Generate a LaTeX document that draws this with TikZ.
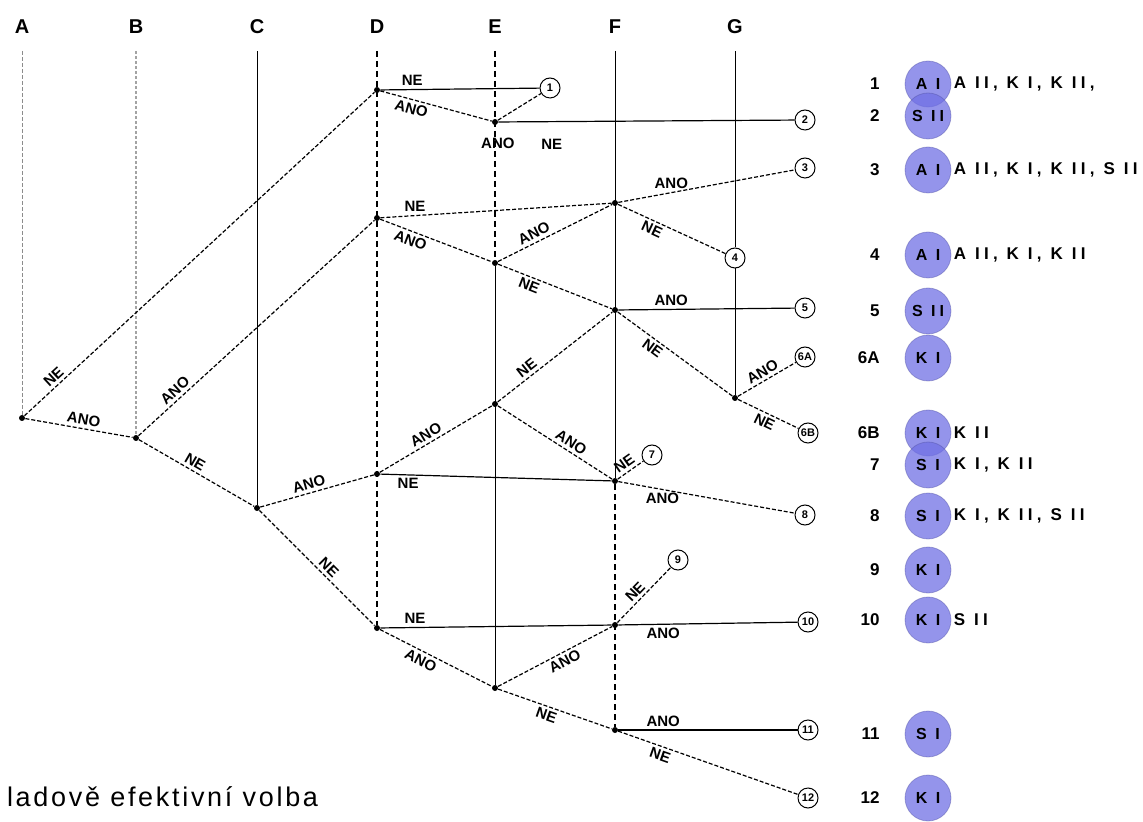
\documentclass[tikz,border=0pt]{standalone}
\usepackage{fontspec}
\setmainfont{Liberation Sans}
\newfontfamily\espaciada[LetterSpace=25]{Liberation Sans}
\newfontfamily\pie[LetterSpace=10]{Liberation Sans}
\usetikzlibrary{positioning}
\definecolor{azul}{RGB}{112,112,228}
\definecolor{gris}{RGB}{140,140,140}

\begin{document}
\begin{tikzpicture}[x=0.5pt, y=-0.5pt,
    nudo/.style={circle, fill, inner sep=0pt, minimum size=3pt},
    fin/.style={circle, draw, fill=white, line width=0.5pt, inner sep=0pt, minimum size=10pt, font=\fontsize{5.5}{6}\selectfont\bfseries},
    etiq/.style={font=\fontsize{7.5}{8}\selectfont\bfseries, inner sep=1.5pt},
    rama/.style={line width=0.6pt, dash pattern=on 2pt off 1pt},
    recta/.style={line width=0.6pt},
    titulo/.style={font=\fontsize{10}{12}\selectfont\bfseries},
    numero/.style={font=\bfseries\fontsize{8.5}{10}\selectfont, inner sep=1pt},
    circulo/.style={circle, fill=azul, fill opacity=0.75, text opacity=1, draw=azul!70!black, draw opacity=0.4, minimum size=23pt, inner sep=0pt, font=\espaciada\bfseries\fontsize{8}{9}\selectfont},
    lista/.style={font=\espaciada\bfseries\fontsize{8.5}{10}\selectfont, inner sep=1pt}]

    \useasboundingbox (0,0) rectangle (1143,822);

    \def\xA{22} % posiciones de las columnas
    \def\xB{136}
    \def\xC{257}
    \def\xD{377}
    \def\xE{495}
    \def\xF{615}
    \def\xG{735}

    % Titulos de las columnas
    \foreach \col/\x in {A/\xA, B/\xB, C/\xC, D/\xD, E/\xE, F/\xF, G/\xG}
        \node[titulo] (h\col) at (\x,27) {\col};

    % Nudos de decision
    \node[nudo] (a) at (\xA,418) {};
    \node[nudo] (b) at (\xB,438) {};
    \node[nudo] (c) at (\xC,508) {};
    \node[nudo] (d1) at (\xD,90) {};
    \node[nudo] (d2) at (\xD,218) {};
    \node[nudo] (d3) at (\xD,474) {};
    \node[nudo] (d4) at (\xD,628) {};
    \node[nudo] (e1) at (\xE,122) {};
    \node[nudo] (e2) at (\xE,263) {};
    \node[nudo] (e3) at (\xE,404) {};
    \node[nudo] (e4) at (\xE,688) {};
    \node[nudo] (f1) at (\xF,203) {};
    \node[nudo] (f2) at (\xF,310) {};
    \node[nudo] (f3) at (\xF,481) {};
    \node[nudo] (f4) at (\xF,625) {};
    \node[nudo] (f5) at (\xF,730) {};
    \node[nudo] (g1) at (\xG,398) {};

    % Resultados
    \node[fin] (o1) at (550,88) {1};
    \node[fin] (o2) at (805,120) {2};
    \node[fin] (o3) at (805,168) {3};
    \node[fin] (o4) at (\xG,258) {4};
    \node[fin] (o5) at (805,308) {5};
    \node[fin] (o6a) at (805,357) {6A};
    \node[fin] (o6b) at (808,433) {6B};
    \node[fin] (o7) at (652,455) {7};
    \node[fin] (o8) at (805,515) {8};
    \node[fin] (o9) at (678,560) {9};
    \node[fin] (o10) at (808,622) {10};
    \node[fin] (o11) at (808,730) {11};
    \node[fin] (o12) at (808,798) {12};

    % Lineas de las columnas
    \draw[gris, line width=0.5pt, dash pattern=on 2pt off 1pt, shorten <=5pt] (hA.south) -- (a);
    \draw[gris!80, line width=0.9pt, dash pattern=on 1.5pt off 1pt, shorten <=5pt] (hB.south) -- (b);
    \draw[line width=0.5pt, shorten <=5pt] (hC.south) -- (c);
    \draw[line width=0.9pt, dash pattern=on 3pt off 2pt, shorten <=5pt] (hD.south) -- (d4);
    \draw[line width=0.8pt, dash pattern=on 3pt off 2pt, shorten <=5pt] (hE.south) -- (e2);
    \draw[line width=0.5pt] (e2) -- (e4);
    \draw[line width=0.5pt, shorten <=5pt] (hF.south) -- (f3);
    \draw[line width=0.9pt, dash pattern=on 3pt off 2pt] (f3) -- (f5);
    \draw[line width=0.5pt, shorten <=5pt] (hG.south) -- (o4);
    \draw[line width=0.5pt] (o4) -- (g1);

    % Ramas desde A, B y C
    \draw[rama] (a) -- node[etiq, above, sloped, pos=0.1] {NE} (d1);
    \draw[rama] (a) -- node[etiq, above, sloped, pos=0.53] {ANO} (b);
    \draw[rama] (b) -- node[etiq, above, sloped, pos=0.18] {ANO} (d2);
    \draw[rama] (b) -- node[etiq, above, sloped, pos=0.45] {NE} (c);
    \draw[rama] (c) -- node[etiq, above, sloped, pos=0.45] {ANO} (d3);
    \draw[rama] (c) -- node[etiq, above, sloped, pos=0.55] {NE} (d4);

    % Ramas desde D
    \draw[recta] (d1) -- node[etiq, above, pos=0.2] {NE} (o1);
    \draw[rama] (d1) -- node[etiq, below, sloped, pos=0.3] {ANO} (e1);
    \draw[rama] (d2) -- node[etiq, above, pos=0.15] {NE} (f1);
    \draw[rama] (d2) -- node[etiq, below, sloped, pos=0.3] {ANO} (e2);
    \draw[rama] (d3) -- node[etiq, above, sloped, pos=0.45] {ANO} (e3);
    \draw[recta] (d3) -- node[etiq, below, pos=0.12] {NE} (f3);
    \draw[recta] (d4) -- node[etiq, above, pos=0.15] {NE} (f4);
    \draw[rama] (d4) -- node[etiq, below, sloped, pos=0.4] {ANO} (e4);

    % Ramas desde E
    \draw[rama] (e1) -- node[etiq, below=7pt, pos=0] {ANO} (o1);
    \draw[recta] (e1) -- node[etiq, below=7pt, pos=0.18] {NE} (o2);
    \draw[rama] (e2) -- node[etiq, above, sloped, pos=0.35] {ANO} (f1);
    \draw[rama] (e2) -- node[etiq, below, sloped, pos=0.3] {NE} (f2);
    \draw[rama] (e3) -- node[etiq, above, sloped, pos=0.3] {NE} (f2);
    \draw[rama] (e3) -- node[etiq, above, sloped, pos=0.6] {ANO} (f3);
    \draw[rama] (e4) -- node[etiq, below, sloped, pos=0.55] {ANO} (f4);
    \draw[rama] (e4) -- node[etiq, below, sloped, pos=0.45] {NE} (f5);

    % Ramas desde F y G
    \draw[rama] (f1) -- node[etiq, above, pos=0.3] {ANO} (o3);
    \draw[rama] (f1) -- node[etiq, below, sloped, pos=0.35] {NE} (o4);
    \draw[recta] (f2) -- node[etiq, above, pos=0.3] {ANO} (o5);
    \draw[rama] (f2) -- node[etiq, below, sloped, pos=0.35] {NE} (g1);
    \draw[rama] (g1) -- node[etiq, above, sloped, pos=0.5] {ANO} (o6a);
    \draw[rama] (g1) -- node[etiq, below, sloped, pos=0.5] {NE} (o6b);
    \draw[rama] (f3) -- node[etiq, above, sloped, pos=0.45] {NE} (o7);
    \draw[rama] (f3) -- node[etiq, below, pos=0.25] {ANO} (o8);
    \draw[rama] (f4) -- node[etiq, above, sloped, pos=0.45] {NE} (o9);
    \draw[recta] (f4) -- node[etiq, below, pos=0.25] {ANO} (o10);
    \draw[recta] (f5) -- node[etiq, above, pos=0.25] {ANO} (o11);
    \draw[rama] (f5) -- node[etiq, below, sloped, pos=0.25] {NE} (o12);

    % Lista de resultados
    \foreach \y/\num/\cir/\txt in {84/1/A I/{A II, K I, K II,}, 116/2/S II/{},
        170/3/A I/{A II, K I, K II, S II}, 255/4/A I/{A II, K I, K II},
        311/5/S II/{}, 358/6A/K I/{}, 433/6B/K I/{K II}, 465/7/S I/{K I, K II},
        516/8/S I/{K I, K II, S II}, 570/9/K I/{}, 620/10/K I/{S II},
        734/11/S I/{}, 798/12/K I/{}}
    {
        \node[numero, anchor=east] (n\num) at (882,\y) {\num};
        \node[circulo] (c\num) at (928,\y) {\cir};
        \node[lista, right=0pt of c\num] (t\num) {\txt};
    }

    % Texto inferior
    \node[anchor=west, font=\pie\fontsize{13.5}{15}\selectfont] (nota) at (0,797) {ladově efektivní volba};

\end{tikzpicture}
\end{document}
